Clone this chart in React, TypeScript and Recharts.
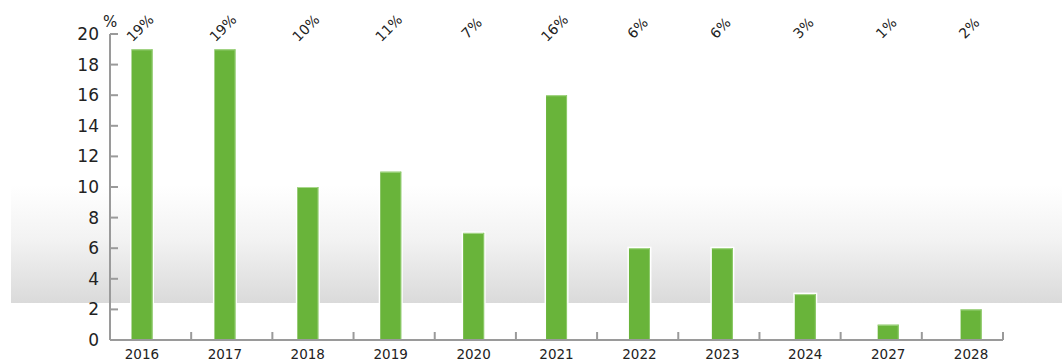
import { BarChart, Bar, XAxis, YAxis, LabelList } from "recharts";

const years = ["2016", "2017", "2018", "2019", "2020", "2021", "2022", "2023", "2024", "2027", "2028"];
const shares = [19, 19, 10, 11, 7, 16, 6, 6, 3, 1, 2];
const yTicks = [0, 2, 4, 6, 8, 10, 12, 14, 16, 18, 20];

const data = years.map((year, i) => ({ year, share: shares[i] }));

const TOP = 34;
const PLOT_LEFT = 110;
const FONT = "'DejaVu Sans', sans-serif";
const AXIS = "#9a9a9a";

const BarShape = (props: any) => {
  const { x, y, width, height } = props;
  if (!height) return null;
  return (
    <g>
      <rect x={x - 1.5} y={y - 1.5} width={width + 3} height={height + 1.5} fill="#fff" />
      <rect x={x} y={y} width={width} height={height} fill="#69b43a" />
      <line x1={x} x2={x + width} y1={y + 0.5} y2={y + 0.5} stroke="#a9d88c" />
      <line x1={x + width - 0.5} x2={x + width - 0.5} y1={y} y2={y + height} stroke="#8fcb6c" />
    </g>
  );
};

const TopLabel = (props: any) => {
  const { x, width, value } = props;
  const cx = x + width / 2 - 2;
  const cy = TOP - 6;
  return (
    <text
      x={cx}
      y={cy}
      textAnchor="middle"
      dominantBaseline="central"
      transform={`rotate(-45 ${cx} ${cy})`}
      fontSize={14}
      fontFamily={FONT}
      fill="#222"
    >
      {`${value}%`}
    </text>
  );
};

// year label plus the upward divider mark that sits at the right edge of each slot
const YearTick = (props: any) => {
  const { x, y, payload, index, width, visibleTicksCount } = props;
  const dx = PLOT_LEFT + ((index + 1) * width) / visibleTicksCount;
  return (
    <g>
      <line x1={dx} x2={dx} y1={340} y2={332} stroke={AXIS} strokeWidth={2} />
      <text x={x} y={y} dy="0.71em" textAnchor="middle" fontSize={13.5} fontFamily={FONT} fill="#222">
        {payload.value}
      </text>
    </g>
  );
};

// value label plus the inward tick mark on the y axis
const ValueTick = (props: any) => {
  const { x, y, payload } = props;
  return (
    <g>
      <line x1={PLOT_LEFT} x2={PLOT_LEFT + 8} y1={y} y2={y} stroke={AXIS} strokeWidth={2} />
      <text x={x} y={y} dy="0.355em" textAnchor="end" fontSize={17} fontFamily={FONT} fill="#222">
        {payload.value}
      </text>
    </g>
  );
};

export default function App() {
  return (
    <div style={{ position: "fixed", left: 0, top: 0, width: 1062, height: 362, background: "#fff" }}>
      <div
        style={{
          position: "absolute",
          left: 11,
          top: 185,
          width: 1051,
          height: 118,
          background: "linear-gradient(to bottom, #ffffff 0%, #f3f3f3 45%, #dadada 100%)",
        }}
      />
      <div
        style={{
          position: "absolute",
          left: 103,
          top: 13,
          fontSize: 15,
          fontFamily: FONT,
          color: "#222",
        }}
      >
        %
      </div>
      <div style={{ position: "absolute", left: 0, top: 0 }}>
        <BarChart
          width={1062}
          height={362}
          data={data}
          margin={{ top: TOP, right: 59, bottom: 0, left: 0 }}
        >
          <XAxis
            dataKey="year"
            height={22}
            padding={{ left: -9.5, right: -9.5 }}
            axisLine={{ stroke: AXIS, strokeWidth: 2 }}
            tickLine={false}
            tickSize={0}
            tickMargin={9}
            interval={0}
            tick={YearTick}
          />
          <YAxis
            domain={[0, 20]}
            ticks={yTicks}
            width={PLOT_LEFT}
            axisLine={{ stroke: AXIS, strokeWidth: 2 }}
            tickLine={false}
            tickSize={0}
            tickMargin={11}
            interval={0}
            tick={ValueTick}
          />
          <Bar dataKey="share" barSize={21} shape={BarShape} isAnimationActive={false}>
            <LabelList dataKey="share" content={TopLabel} />
          </Bar>
        </BarChart>
      </div>
    </div>
  );
}
